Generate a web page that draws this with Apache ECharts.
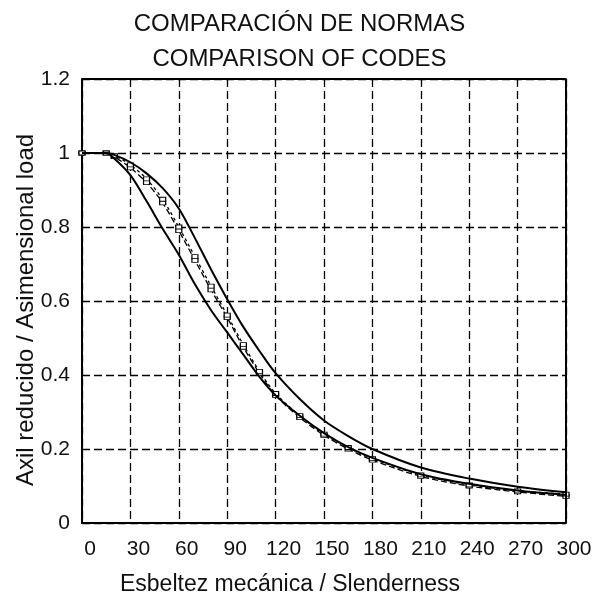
<!DOCTYPE html>
<html>
<head>
<meta charset="utf-8">
<script src="https://cdn.jsdelivr.net/npm/echarts@6/dist/echarts.min.js"></script>
<style>
  html, body { margin: 0; padding: 0; background: #fff; }
  #chart { width: 599px; height: 592px; }
</style>
</head>
<body>
<div id="chart"></div>
<script>
// esbeltez (x)
const slenderness = [0, 15, 20, 30, 40, 50, 60, 70, 80, 90, 100, 110, 120, 135, 150, 165, 180, 210, 240, 270, 300];

// curva superior (continua)
const upperCurve = [1, 1, 0.995, 0.975, 0.945, 0.905, 0.85, 0.77, 0.685, 0.605, 0.53, 0.465, 0.405, 0.335, 0.277, 0.235, 0.2, 0.15, 0.12, 0.098, 0.083];
// curva inferior (continua)
const lowerCurve = [1, 1, 0.985, 0.94, 0.87, 0.795, 0.725, 0.645, 0.575, 0.515, 0.455, 0.395, 0.345, 0.29, 0.243, 0.205, 0.176, 0.132, 0.106, 0.088, 0.076];
// curvas intermedias (discontinuas con marcas)
const midCurveA = [1, 1, 0.99, 0.96, 0.92, 0.865, 0.79, 0.71, 0.63, 0.555, 0.475, 0.405, 0.345, 0.285, 0.237, 0.2, 0.17, 0.126, 0.1, 0.084, 0.072];
const midCurveB = [1, 1, 0.993, 0.968, 0.93, 0.875, 0.8, 0.72, 0.64, 0.562, 0.482, 0.41, 0.35, 0.29, 0.24, 0.204, 0.174, 0.13, 0.103, 0.087, 0.078];

const xTicks = [0, 30, 60, 90, 120, 150, 180, 210, 240, 270, 300];
const yTicks = [0, 0.2, 0.4, 0.6, 0.8, 1, 1.2];

const FONT = '"Liberation Sans", Arial, sans-serif';

function pairs(ys) {
  return slenderness.map((x, i) => [x, ys[i]]);
}

const chart = echarts.init(document.getElementById('chart'));

const solid = (name, ys) => ({
  name: name,
  type: 'line',
  data: pairs(ys),
  smooth: 0.3,
  showSymbol: false,
  lineStyle: { color: '#000', width: 2 },
  z: 5
});

const dashed = (name, ys, dash) => ({
  name: name,
  type: 'line',
  data: pairs(ys),
  smooth: 0.3,
  symbol: 'rect',
  symbolSize: [6, 4],
  showSymbol: true,
  itemStyle: { color: '#fff', borderColor: '#000', borderWidth: 1 },
  lineStyle: { color: '#000', width: 1.3, type: dash },
  z: 4
});

chart.setOption({
  animation: false,
  backgroundColor: '#fff',
  title: {
    text: 'COMPARACIÓN DE NORMAS\nCOMPARISON OF CODES',
    left: 'center',
    top: 2,
    textStyle: {
      fontFamily: FONT,
      fontSize: 24,
      fontWeight: 'normal',
      color: '#111',
      lineHeight: 35,
      align: 'center'
    }
  },
  grid: { left: 82, right: 33, top: 79, bottom: 69, outerBoundsMode: 'none', containLabel: false },
  xAxis: {
    type: 'value',
    min: 0,
    max: 300,
    interval: 30,
    name: 'Esbeltez mecánica / Slenderness',
    nameLocation: 'middle',
    nameGap: 50,
    nameMoveOverlap: false,
    nameTextStyle: { fontFamily: FONT, fontSize: 23, color: '#111', padding: [0, 68, 0, 0] },
    axisLine: { show: true, lineStyle: { color: '#000', width: 2 } },
    axisTick: { show: false },
    axisLabel: {
      fontFamily: FONT, fontSize: 21, color: '#111', margin: 16,
      padding: [0, 0, 0, 16],
      formatter: v => xTicks.includes(v) ? String(v) : ''
    },
    splitLine: { show: true, lineStyle: { color: '#000', width: 1.3, type: [8, 4] } }
  },
  yAxis: {
    type: 'value',
    min: 0,
    max: 1.2,
    interval: 0.2,
    name: 'Axil reducido / Asimensional load',
    nameLocation: 'middle',
    nameGap: 44,
    nameMoveOverlap: false,
    nameTextStyle: { fontFamily: FONT, fontSize: 24, color: '#111', padding: [0, 18, 0, 0] },
    axisLine: { show: true, lineStyle: { color: '#000', width: 2 } },
    axisTick: { show: false },
    axisLabel: {
      fontFamily: FONT, fontSize: 21, color: '#111', margin: 12,
      formatter: v => {
        const t = yTicks.find(k => Math.abs(k - v) < 1e-6);
        return t === undefined ? '' : String(t);
      }
    },
    splitLine: { show: true, lineStyle: { color: '#000', width: 1.3, type: [8, 4] } }
  },
  series: [
    solid('upper', upperCurve),
    solid('lower', lowerCurve),
    dashed('midA', midCurveA, [6, 3]),
    dashed('midB', midCurveB, [3, 3]),
    {
      // marco superior y derecho
      type: 'line',
      data: [[0, 1.2], [300, 1.2], [300, 0]],
      showSymbol: false,
      silent: true,
      lineStyle: { color: '#000', width: 2 },
      z: 6
    }
  ]
});

window.addEventListener('resize', function () {
  chart.resize();
});
</script>
</body>
</html>
